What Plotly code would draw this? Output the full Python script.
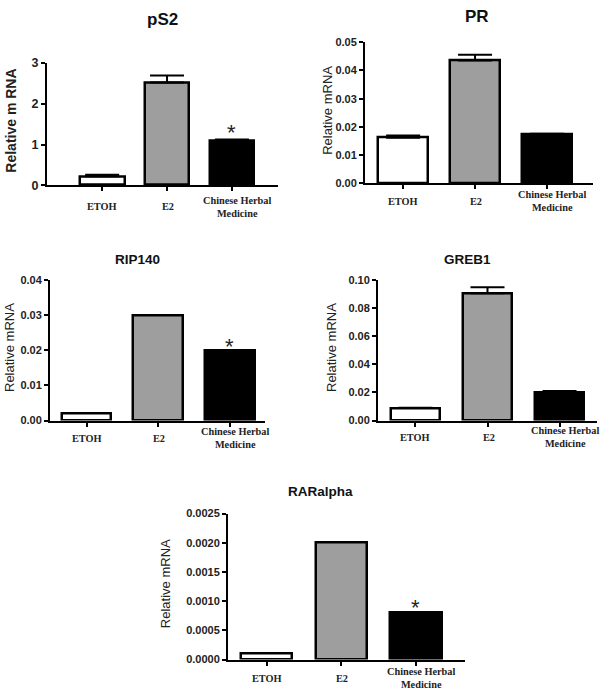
import plotly.graph_objects as go

W, H = 600, 697

groups = ["ETOH", "E2", "Chinese Herbal<br>Medicine"]
bar_colors = ["#ffffff", "#9e9e9e", "#000000"]

titles = ["pS2", "PR", "RIP140", "GREB1", "RARalpha"]
ylabels = ["Relative m RNA", "Relative mRNA", "Relative mRNA", "Relative mRNA", "Relative mRNA"]

ps2_vals = [0.22, 2.52, 1.09]
ps2_err = [0.04, 0.17, 0.03]
pr_vals = [0.0162, 0.0435, 0.0173]
pr_err = [0.0008, 0.0021, 0.0003]
rip140_vals = [0.002, 0.030, 0.020]
greb1_vals = [0.0089, 0.0909, 0.0200]
greb1_err = [0.0003, 0.0042, 0.0010]
raralpha_vals = [0.0001, 0.0020, 0.0008]

y_max = [3, 0.05, 0.04, 0.10, 0.0025]
y_dtick = [1, 0.01, 0.01, 0.02, 0.0005]
y_fmt = ["d", ".2f", ".2f", ".2f", ".4f"]
star_on = [True, False, True, False, True]

values = [ps2_vals, pr_vals, rip140_vals, greb1_vals, raralpha_vals]
errors = [ps2_err, pr_err, None, greb1_err, None]

# layout geometry (pixels)
px_x = [(47, 278), (365, 593), (50, 265), (378, 597), (228, 465)]
px_y = [(57, 182), (36, 180), (279, 422), (279, 422), (517, 666)]
x_ranges = [(-0.85, 2.71), (-0.53, 2.64), (-0.51, 2.49), (-0.52, 2.52), (-0.52, 2.66)]
title_pos = [(162, 13, 17), (477, 10, 17), (137, 258, 13.5), (467, 258, 13.5), (320, 494, 13.5)]
ylab_pos = [(11, 116, 14, "bold"), (328, 106, 13, "normal"), (9, 348, 13, "normal"),
            (331, 348, 13, "normal"), (165, 589, 13, "normal")]
xlab_y = [204, 198, 440, 439, 685]
xlab_shift = [0, 1, 5]
tick_size = [12.5, 11, 11, 11, 11]
star_shift = [7, 0, 4, 0, 5]

fig = go.Figure()
annotations = []
layout = dict(width=W, height=H, margin=dict(l=0, r=0, t=0, b=0),
              paper_bgcolor="white", plot_bgcolor="white", showlegend=False,
              bargap=0)

for i in range(5):
    sfx = "" if i == 0 else str(i + 1)
    xa, ya = "x" + sfx, "y" + sfx
    err = errors[i]
    ey = None
    if err is not None:
        ey = dict(type="data", symmetric=False, array=err, arrayminus=[0, 0, 0],
                  color="black", thickness=2, width=17)
    fig.add_trace(go.Bar(
        x=[0, 1, 2], y=values[i], width=0.69,
        marker=dict(color=bar_colors, line=dict(color="black", width=2.5)),
        error_y=ey, xaxis=xa, yaxis=ya, hoverinfo="skip"))

    x0, x1 = px_x[i]
    y0, y1 = px_y[i]
    layout["xaxis" + sfx] = dict(
        domain=[x0 / W, x1 / W], range=list(x_ranges[i]), anchor=ya,
        showline=True, linecolor="black", linewidth=2,
        ticks="outside", ticklen=4, tickwidth=1.5, tickcolor="black",
        tickvals=[0, 1, 2], showticklabels=False, showgrid=False, zeroline=False,
        fixedrange=True)
    layout["yaxis" + sfx] = dict(
        domain=[1 - y1 / H, 1 - y0 / H], range=[0, y_max[i]], anchor=xa,
        dtick=y_dtick[i], tick0=0, tickformat=y_fmt[i],
        showline=True, linecolor="black", linewidth=2,
        ticks="outside", ticklen=4, tickwidth=1.5, tickcolor="black",
        tickfont=dict(family="Liberation Sans", size=tick_size[i], color="#222", weight="bold"),
        showgrid=False, zeroline=False, fixedrange=True)

    tx, ty, ts = title_pos[i]
    annotations.append(dict(text=titles[i], xref="paper", yref="paper",
                            x=tx / W, y=1 - ty / H, xanchor="center", yanchor="middle",
                            showarrow=False,
                            font=dict(family="Liberation Sans", size=ts, color="#111", weight="bold")))
    lx, ly, ls, lw = ylab_pos[i]
    annotations.append(dict(text=ylabels[i], xref="paper", yref="paper",
                            x=lx / W, y=1 - ly / H, xanchor="center", yanchor="middle",
                            textangle=-90, showarrow=False,
                            font=dict(family="Liberation Sans", size=ls, color="#222", weight=lw)))
    for k, g in enumerate(groups):
        annotations.append(dict(text=g, xref=xa, yref="paper", x=k, y=1 - xlab_y[i] / H,
                                xshift=xlab_shift[k],
                                xanchor="center", yanchor="middle", showarrow=False,
                                font=dict(family="Liberation Serif", size=10.3, color="#222",
                                          weight="bold")))
    if star_on[i]:
        top = values[i][2] + (err[2] if err is not None else 0)
        annotations.append(dict(text="*", xref=xa, yref=ya, x=2, y=top, yshift=star_shift[i],
                                xanchor="center", yanchor="middle", showarrow=False,
                                font=dict(family="Liberation Sans", size=22, color="#222")))

layout["annotations"] = annotations
fig.update_layout(**layout)
fig.write_html("out.html", config={"displayModeBar": False},
               post_script="document.documentElement.style.margin='0';document.body.style.margin='0';document.body.style.overflow='hidden';")
